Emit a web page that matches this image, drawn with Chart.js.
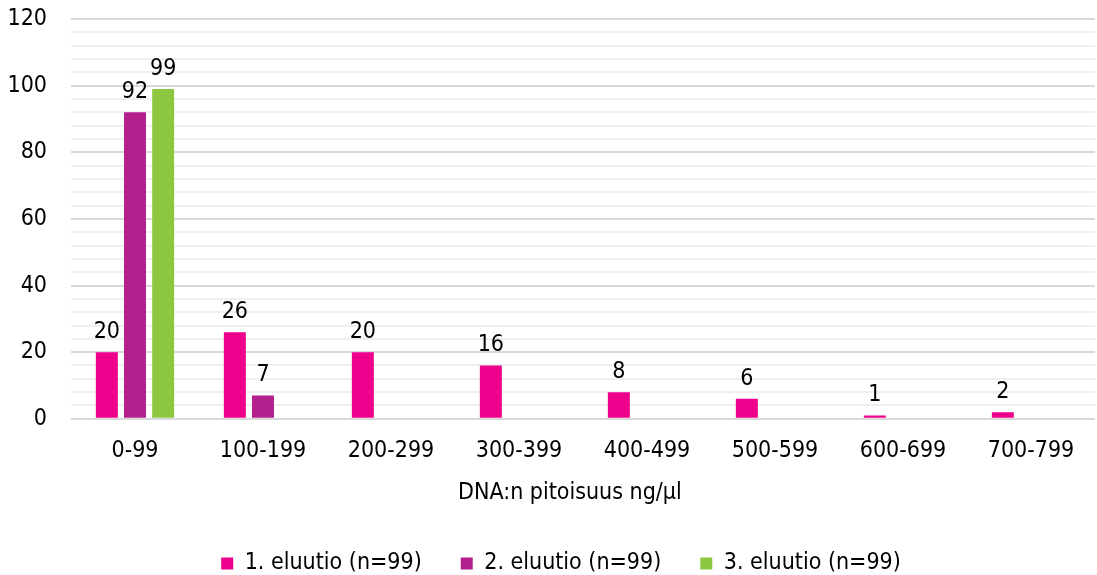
<!DOCTYPE html>
<html>
<head>
<meta charset="utf-8">
<script src="https://cdn.jsdelivr.net/npm/chart.js@4"></script>
<style>
  html, body { margin: 0; padding: 0; background: #fff; }
  #wrap { width: 1097px; height: 575px; }
</style>
</head>
<body>
<div id="wrap"><canvas id="dnaChart"></canvas></div>
<script>
const categories = ['0-99', '100-199', '200-299', '300-399', '400-499', '500-599', '600-699', '700-799'];
const elution1 = [20, 26, 20, 16, 8, 6, 1, 2];
const elution2 = [92, 7, null, null, null, null, null, null];
const elution3 = [99, null, null, null, null, null, null, null];
const seriesNames = ['1. eluutio (n=99)', '2. eluutio (n=99)', '3. eluutio (n=99)'];
const yTickLabels = [0, 20, 40, 60, 80, 100, 120];

const FONT = 'DejaVu Sans Condensed';
const SIZE = 23;

// prints the value above each bar
const valueLabels = {
    id: 'valueLabels',
    afterDatasetsDraw(chart) {
        const ctx = chart.ctx;
        ctx.save();
        ctx.font = SIZE + 'px "' + FONT + '"';
        ctx.fillStyle = '#000';
        ctx.textAlign = 'center';
        ctx.textBaseline = 'alphabetic';
        chart.data.datasets.forEach((ds, i) => {
            chart.getDatasetMeta(i).data.forEach((bar, j) => {
                const v = ds.data[j];
                if (v === null || v === undefined) return;
                ctx.fillText(String(v), bar.x, bar.y - 14);
            });
        });
        ctx.restore();
    }
};

const ctx = document.getElementById('dnaChart').getContext('2d');
new Chart(ctx, {
    type: 'bar',
    data: {
        labels: categories,
        datasets: [
            { label: seriesNames[0], data: elution1, backgroundColor: '#ec008c' },
            { label: seriesNames[1], data: elution2, backgroundColor: '#b41f8e' },
            { label: seriesNames[2], data: elution3, backgroundColor: '#8dc63f' }
        ]
    },
    options: {
        responsive: true,
        maintainAspectRatio: false,
        animation: false,
        categoryPercentage: 0.66,
        barPercentage: 0.78,
        // negative right padding shifts the legend right; the x scale keeps the plot edge
        layout: { padding: { top: 19, right: -25, left: 0, bottom: -10 } },
        plugins: {
            tooltip: { enabled: false },
            legend: {
                position: 'bottom',
                labels: {
                    font: { family: FONT, size: SIZE },
                    color: '#000',
                    boxWidth: 12,
                    boxHeight: 12,
                    padding: 39
                }
            }
        },
        scales: {
            x: {
                grid: { display: false },
                border: { display: false },
                afterFit: scale => { scale.paddingRight = 2; },
                ticks: {
                    font: { family: FONT, size: SIZE },
                    color: '#000',
                    padding: 10
                },
                title: {
                    display: true,
                    // trailing spaces nudge the centred title a little to the left
                    text: 'DNA:n pitoisuus ng/µl' + '\u00a0'.repeat(4),
                    font: { family: FONT, size: SIZE },
                    color: '#000',
                    padding: { top: 5, bottom: 6 }
                }
            },
            y: {
                min: 0,
                max: 120,
                border: { display: false },
                afterFit: scale => { scale.width = 71; scale.paddingTop = 0; },
                grid: {
                    color: c => yTickLabels.includes(c.tick.value) ? '#d9d9d9' : '#efefef',
                    lineWidth: 2,
                    drawTicks: false
                },
                ticks: {
                    stepSize: 4,
                    autoSkip: false,
                    font: { family: FONT, size: SIZE },
                    color: '#000',
                    padding: 24,
                    callback: v => yTickLabels.includes(v) ? v : ''
                }
            }
        }
    },
    plugins: [valueLabels]
});
</script>
</body>
</html>
